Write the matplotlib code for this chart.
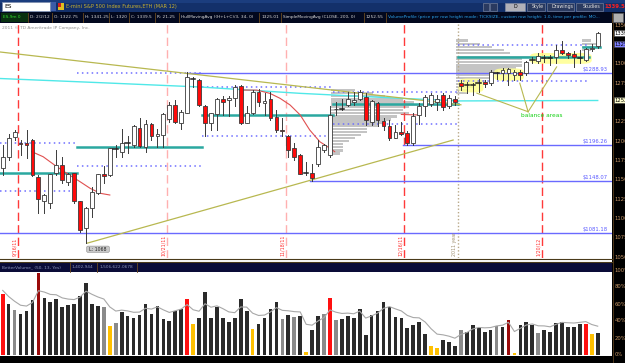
import numpy as np
import pandas as pd
import matplotlib
matplotlib.use("Agg")
import matplotlib.pyplot as plt
from matplotlib.patches import Rectangle, FancyBboxPatch

W, H = 625, 363

# daily bars, ES mar 12
opens = [1165, 1180, 1205, 1198, 1198, 1201, 1154, 1122, 1120, 1159,
         1169, 1147, 1159, 1122, 1088, 1113, 1133, 1157, 1156, 1190,
         1186, 1198, 1195, 1217, 1193, 1222, 1206, 1208, 1229, 1247,
         1224, 1237, 1281, 1279, 1246, 1223, 1235, 1254, 1253, 1256,
         1271, 1224, 1236, 1264, 1249, 1254, 1231, 1215, 1207, 1191,
         1182, 1159, 1159, 1170, 1188, 1182, 1241, 1242, 1247, 1251,
         1254, 1257, 1225, 1249, 1226, 1219, 1204, 1212, 1211, 1197,
         1234, 1245, 1248, 1251, 1260, 1245, 1255, 1275, 1273, 1273,
         1275, 1276, 1275, 1288, 1288, 1288, 1285, 1290, 1288, 1305,
         1303, 1307, 1307, 1309, 1318, 1314, 1313, 1307, 1305, 1319,
         1322.75]
highs = [1195, 1209, 1214, 1201, 1214, 1203, 1156, 1131, 1158, 1188,
         1180, 1159, 1159, 1122, 1115, 1141, 1158, 1168, 1191, 1195,
         1216, 1206, 1221, 1230, 1227, 1223, 1216, 1236, 1251, 1253,
         1240, 1289, 1283, 1280, 1247, 1237, 1256, 1258, 1258, 1273,
         1273, 1245, 1266, 1267, 1262, 1264, 1240, 1230, 1208, 1197,
         1183, 1173, 1171, 1201, 1196, 1245, 1251, 1255, 1263, 1263,
         1266, 1262, 1253, 1251, 1230, 1227, 1221, 1225, 1213, 1236,
         1249, 1260, 1262, 1260, 1262, 1260, 1258, 1279, 1276, 1275,
         1281, 1279, 1292, 1290, 1294, 1294, 1292, 1292, 1304, 1309,
         1314, 1311, 1311, 1324, 1329, 1315, 1316, 1318, 1321, 1326,
         1341.25]
lows = [1156, 1176, 1201, 1182, 1178, 1155, 1107, 1107, 1113, 1156,
        1146, 1143, 1120, 1083, 1068, 1102, 1132, 1146, 1155, 1180,
        1180, 1185, 1192, 1193, 1186, 1201, 1192, 1193, 1225, 1223,
        1216, 1237, 1270, 1245, 1207, 1214, 1214, 1234, 1232, 1245,
        1222, 1223, 1235, 1245, 1234, 1227, 1212, 1207, 1180, 1176,
        1157, 1156, 1148, 1168, 1186, 1180, 1234, 1240, 1245, 1247,
        1253, 1221, 1221, 1219, 1214, 1201, 1204, 1208, 1195, 1195,
        1222, 1232, 1245, 1240, 1240, 1243, 1247, 1266, 1262, 1260,
        1264, 1270, 1273, 1281, 1279, 1273, 1279, 1279, 1286, 1301,
        1301, 1302, 1298, 1301, 1313, 1307, 1296, 1301, 1303, 1316,
        1320]
closes = [1180, 1204, 1212, 1196, 1195, 1156, 1125, 1130, 1157, 1169,
          1150, 1158, 1122, 1085, 1113, 1134, 1157, 1155, 1191, 1190,
          1198, 1198, 1219, 1194, 1222, 1206, 1209, 1235, 1247, 1225,
          1238, 1283, 1281, 1247, 1223, 1236, 1254, 1250, 1256, 1270,
          1224, 1236, 1263, 1251, 1252, 1230, 1214, 1213, 1189, 1180,
          1158, 1159, 1152, 1192, 1195, 1234, 1242, 1242, 1254, 1253,
          1263, 1227, 1252, 1227, 1220, 1204, 1212, 1209, 1197, 1232,
          1245, 1257, 1260, 1255, 1244, 1256, 1251, 1271, 1273, 1273,
          1275, 1274, 1290, 1288, 1292, 1293, 1290, 1285, 1302, 1305,
          1310, 1307, 1307, 1318, 1314, 1311, 1309, 1307, 1319, 1321,
          1339.5]

# BetterVolume panel (percent scale) and bar colour codes
volume_pct = [72, 60, 53, 48, 52, 65, 97, 67, 62, 66,
              56, 59, 60, 70, 85, 60, 58, 57, 34, 38,
              51, 46, 43, 47, 60, 48, 58, 42, 40, 52,
              54, 66, 37, 44, 74, 44, 57, 44, 39, 44,
              66, 52, 31, 37, 44, 54, 62, 42, 47, 45,
              46, 3, 29, 46, 48, 67, 41, 42, 46, 43,
              54, 23, 47, 52, 62, 57, 45, 43, 32, 35,
              39, 25, 11, 8, 18, 15, 11, 29, 27, 35,
              32, 27, 29, 34, 33, 41, 2, 35, 39, 35,
              26, 30, 27, 38, 39, 33, 33, 36, 37, 25,
              26]
volume_kind = ("rkgkkkmkkk" "kkkkkkkgyg" "kkkkkkkkkk" "krykkkkkkk" "kkykkkkgkg"
               "kykkgrgkkk" "kkkkkkkkkk" "kkyykkkgkk" "kkkgkmykkk" "gkkkkkkkry" "k")
kind_colors = {"r": "#ff1010", "m": "#9a0a0a", "g": "#8a8a8a", "y": "#ffc000", "k": "#2a2a2a"}

# monthly volume profile: POC and value area per month
month_start = [-0.45, 12.5, 33.5, 55.5, 76.5, 97.5]
month_end = [12.5, 33.5, 55.5, 76.5, 98.5, 100.4]
poc_price = [1158.4, 1192.8, 1233.8, 1248.0, 1309.2, 1322.0]
vah_price = [1197.0, 1288.5, 1269.6, 1264.0, 1324.3, None]
val_price = [1135.8, 1168.0, 1206.6, 1222.1, 1278.2, None]

dec_levels = [1266, 1262, 1258, 1254, 1250, 1247, 1244, 1240, 1236, 1232, 1228,
              1224, 1220, 1216, 1212, 1208, 1204, 1200, 1196, 1192, 1188, 1184]
dec_widths = [4, 7, 9, 12, 14, 21, 13, 12, 13, 11, 10, 9, 8, 6, 6, 5, 4, 3, 2, 2, 2, 1.5]
jan_levels = [1330, 1326, 1322, 1318, 1314, 1309, 1306, 1302, 1298, 1294, 1290,
              1286, 1282, 1278, 1274, 1270, 1266, 1262]
jan_widths = [2, 4, 6, 8, 9, 22, 11, 11, 11, 10, 7, 6, 6, 5, 4, 3, 2, 2]
feb_levels = [1330, 1326, 1322, 1318]
feb_widths = [1.5, 2.5, 3, 1.5]

# 200 SMA (cyan) and Hull MA falling legs (red)
sma_x = [-0.45, 16.4, 33.2, 50, 66.8, 76.9, 100]
sma_y = [1281, 1275.6, 1270, 1261.8, 1255.4, 1252, 1252.55]
hma_legs = [
    ([4.9, 6.8, 9.1, 10.75, 13, 14.7, 16.4, 18],
     [1186.3, 1179.8, 1166.9, 1158.4, 1147.5, 1138.9, 1132.5, 1130.3]),
    ([40.4, 42.7, 44.9, 46.6, 48.3, 50, 51.6, 53.3, 55, 55.8],
     [1266, 1266, 1261.8, 1255.4, 1246.7, 1233.8, 1214.4, 1199.2, 1190.7, 1186.3]),
    ([67.0, 70.0], [1234.5, 1233.8]),
]

# drawn price levels: start bar, price, label
level_start = [31, 67.3, 51.7, -0.45]
level_price = [1288.5, 1195.0, 1148.07, 1081.18]
level_label = ["$1288.93", "$1196.26", "$1148.07", "$1081.18"]

# trend lines (bar, price)
trend_up = ([14.2, 75.7], [1068, 1201.4])
trend_down = ([-0.45, 77.0], [1315.3, 1247.0])

# expiration separators
sep_bars = [2.57, 27.6, 47.6, 67.4, 76.5, 90.6]
sep_labels = ["9/16/11", "10/21/11", "11/18/11", "12/16/11", "2011 year", "1/20/12"]
sep_colors = ["#ff3a3a", "#ffb0b0", "#ffb0b0", "#ff3a3a", "#b8a888", "#ff3a3a"]

# balance areas (bar0, bar1, p0, p1) and callout ends
balance = [(76.6, 80.8, 1263, 1281), (82.6, 87.6, 1278, 1294), (88.6, 99.0, 1300, 1314)]
callout_from = (88.3, 1238)
callout_to = [(79.7, 1262), (86.9, 1275), (93.1, 1296)]

price_ticks = [1350, 1300, 1275, 1225, 1200, 1175, 1150, 1125, 1100, 1075, 1050]
vol_ticks = [0, 20, 40, 60, 80, 100]


def px_axes(x0, y0, x1, y1):
    return fig.add_axes([x0 / W, 1 - y1 / H, (x1 - x0) / W, (y1 - y0) / H])


fig = plt.figure(figsize=(W / 100, H / 100), dpi=100)
fig.patch.set_facecolor("white")

# ---- price panel
ax = px_axes(0, 23, 612, 258)
ax.set_xlim(-0.454, 102.4)
ax.set_ylim(1048.8, 1352.8)
ax.axis("off")

for s, lv, w in [(55.2, dec_levels, dec_widths), (76.2, jan_levels, jan_widths), (97.3, feb_levels, feb_widths)]:
    ax.barh(lv, w, left=s, height=3.0, color="#c4c4c4", zorder=1)

for b0, b1, p0, p1 in balance:
    ax.add_patch(FancyBboxPatch((b0, p0), b1 - b0, p1 - p0, boxstyle="round,pad=0,rounding_size=1.5",
                                facecolor="#ffff90", edgecolor="none", alpha=0.85, zorder=1.5,
                                mutation_aspect=3))

for s, e, poc, hi, lo in zip(month_start, month_end, poc_price, vah_price, val_price):
    ax.plot([s, e], [poc, poc], color="#2aa8a0", lw=1.8, zorder=2)
    for v in (hi, lo):
        if v is not None:
            ax.plot([s, e], [v, v], color="#6f6fff", lw=1.1, ls=(0, (1, 2.2)), zorder=2)

for b, p in zip(level_start, level_price):
    ax.plot([b, 102.4], [p, p], color="#6a6aff", lw=1.0, zorder=2)
for p, lab in zip(level_price, level_label):
    ax.text(101.6, p + 1.5, lab, color="#5a5aff", fontsize=3.8, ha="right", va="bottom", zorder=4)

ax.plot(sma_x, sma_y, color="#50e8e8", lw=1.0, zorder=2)
for hx, hy in hma_legs:
    ax.plot(hx, hy, color="#e05050", lw=0.8, zorder=2)
ax.plot(*trend_up, color="#b8b850", lw=0.9, zorder=2)
ax.plot(*trend_down, color="#b8b850", lw=0.9, zorder=2)

for (tx, ty) in callout_to:
    ax.plot([callout_from[0], tx], [callout_from[1], ty], color="#b8b850", lw=0.8, zorder=2.5)
ax.text(callout_from[0] - 1.2, 1233, "balance areas", color="#10d010", fontsize=4.2,
        ha="left", va="center", zorder=4)

for b, c in zip(sep_bars, sep_colors):
    ls = (0, (1, 1.5)) if c == "#b8a888" else (0, (6, 3))
    ax.axvline(b, color=c, lw=1.0, ls=ls, zorder=1.2)

# candles
for i in range(len(opens)):
    o, h, l, c = opens[i], highs[i], lows[i], closes[i]
    ax.plot([i, i], [l, h], color="#3a3a3a", lw=0.7, zorder=3)
    if abs(c - o) < 0.8:
        ax.plot([i - 0.38, i + 0.38], [o, o], color="#202020", lw=1.1, zorder=3.2)
    else:
        face = "white" if c > o else "#ff0a0a"
        ax.add_patch(Rectangle((i - 0.32, min(o, c)), 0.64, abs(c - o), facecolor=face,
                               edgecolor="#3a3a3a", lw=0.6, zorder=3.1))

# ---- volume panel
vax = px_axes(0, 270, 612, 355)
vax.set_xlim(-0.454, 102.4)
vax.set_ylim(0, 100)
vax.axis("off")
vol = pd.Series(volume_pct, dtype=float)
vax.bar(range(len(vol)), vol, width=0.62, color=[kind_colors[k] for k in volume_kind], zorder=2)
vax.plot(range(len(vol)), vol.ewm(span=5).mean() + 4, color="#a8a8a8", lw=0.8, zorder=3)

# ---- chrome drawn in pixel space
ov = fig.add_axes([0, 0, 1, 1], zorder=10)
ov.set_xlim(0, W)
ov.set_ylim(H, 0)
ov.axis("off")
ov.patch.set_alpha(0)


def box(x0, y0, x1, y1, fc, ec="none", lw=0.6):
    ov.add_patch(Rectangle((x0, y0), x1 - x0, y1 - y0, facecolor=fc, edgecolor=ec, lw=lw))


def txt(x, y, s, color, size=3.3, **kw):
    ov.text(x, y, s, color=color, fontsize=size, va="center", **kw)


# top bar
box(0, 0, W, 12, "#13306a")
box(0, 0, W, 3, "#1b3d7e")
box(2, 2, 50, 10.5, "white", "#8090b0")
txt(4, 6.3, "ES", "black", 4.2)
box(51, 2, 56, 10.5, "#3c5ca8")
box(58, 3, 64, 10, "#e0c020")
box(58, 3, 61, 6.5, "#d02020")
txt(66, 6.5, "E-mini S&P 500 Index Futures,ETH (MAR 12)", "#c8b030", 3.6)
for x0, x1, lab in [(483, 489, ""), (490, 497, ""), (505, 525, "D"), (527, 545, "Style"),
                    (547, 574, "Drawings"), (576, 603, "Studies")]:
    box(x0, 2.5, x1, 10.5, "#b0b0b8" if lab == "D" else "#2a3a60", "#8890a8", 0.4)
    if lab:
        txt((x0 + x1) / 2 + (2 if lab != "D" else 0), 6.5, lab, "#e0e0e0" if lab != "D" else "black",
            3.4, ha="center")
txt(604, 6.5, "1339.5", "#ff2020", 3.9, weight="bold")

# study row
box(0, 12, W, 22.5, "#02081e")
cells = [(1, 28, "ES-9m 0", "#30e030"), (28, 52, "D: 2/2/12", "#d8d8d8"),
         (52, 83, "O: 1322.75", "#d8d8d8"), (83, 109, "H: 1341.25", "#d8d8d8"),
         (109, 129, "L: 1320", "#d8d8d8"), (129, 155, "C: 1339.5", "#d8d8d8"),
         (155, 179, "R: 21.25", "#d8d8d8"), (179, 259, "HullMovingAvg ((H+L+C)/3, 34, 0)", "#d8d8d8"),
         (259, 281, "1325.01", "#d8d8d8"), (281, 364, "SimpleMovingAvg (CLOSE, 200, 0)", "#d8d8d8"),
         (364, 386, "1252.55", "#d8d8d8"),
         (386, 612, "VolumeProfile (price per row height mode: TICKSIZE, custom row height: 1.0, time per profile: MO...",
          "#2aa0e8")]
box(1, 12.8, 28, 21.8, "#083010")
for x0, x1, lab, col in cells:
    ov.plot([x1, x1], [12.5, 22], color="#6a4a20", lw=0.6)
    txt(x0 + 2, 17.3, lab, col, 3.1)
box(613, 13, 623, 21.5, "#b0b0b0", "#606060", 0.4)

txt(2, 27.5, "2011 \u00a9 TD Ameritrade IP Company, Inc.", "#909090", 3.2)

# expiration labels
for b, lab, c in zip(sep_bars, sep_labels, sep_colors):
    xp = 2.7 + b * 5.95
    ov.text(xp - 0.8, 256, lab, color="#ff3030" if c != "#b8a888" else "#a09070", fontsize=3.4,
            rotation=90, ha="right", va="bottom")

# low marker
ov.add_patch(FancyBboxPatch((87, 246.5), 22, 5.5, boxstyle="round,pad=0.4,rounding_size=1.5",
                            facecolor="#c8c8c8", edgecolor="#909090", lw=0.4))
txt(98, 249.3, "L: 1068", "#202020", 3.3, ha="center")

# panel separator and volume header
box(0, 258, 612, 262, "white")
ov.plot([0, 612], [258.5, 258.5], color="#4a3a1a", lw=0.8)
ov.plot([0, 612], [261.5, 261.5], color="#4a3a1a", lw=0.8)
box(0, 263, 612, 271.5, "#0a0c38")
for x0, x1, lab in [(0, 70, "BetterVolume_ (50, 13, Yes)"), (70, 97, "1,402,944"), (97, 137, "1,506,622.0678")]:
    ov.plot([x1, x1], [263, 271.5], color="#6a4a20", lw=0.6)
    txt(x0 + 2, 267.3, lab, "#8a94b8", 3.1)
box(0, 356, W, H, "black")

# right axis
box(612, 22.5, W, H, "black")
ov.plot([612.5, 612.5], [22.5, H], color="#5a4020", lw=0.6)
price_to_px = lambda p: 23 + (1352.8 - p) / (1352.8 - 1048.8) * 235
for p in price_ticks:
    txt(614.5, price_to_px(p), str(p), "#c89868", 3.8)
for v in vol_ticks:
    txt(614.5, 355 - v * 0.85, f"{v}%", "#c89868", 3.8)
for p, lab, fc in [(1339.5, "1339.5", "white"), (1325.01, "1325.01", "#8080ff"), (1252.55, "1252.55", "#ffffd0")]:
    yy = price_to_px(p)
    box(613.5, yy - 3, W, yy + 3, fc, "#404040", 0.4)
    txt(614.5, yy, lab, "black", 3.8)

fig.savefig("out.png", dpi=100, facecolor=fig.get_facecolor())
